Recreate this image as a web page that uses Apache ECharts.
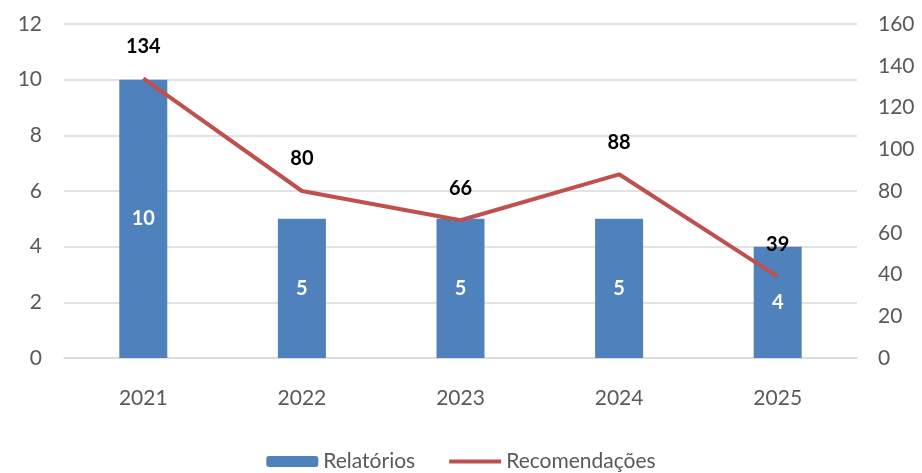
<!DOCTYPE html>
<html>
<head>
<meta charset="utf-8">
<script src="https://cdn.jsdelivr.net/npm/echarts@6/dist/echarts.min.js"></script>
<style>
  html, body { margin: 0; padding: 0; background: #fff; }
  #chart { width: 922px; height: 473px; }
</style>
</head>
<body>
<div id="chart"></div>
<script>
const years = ['2021', '2022', '2023', '2024', '2025']
const relatorios = [10, 5, 5, 5, 4]
const recomendacoes = [134, 80, 66, 88, 39]

const font = 'Lato, "Open Sans", sans-serif'
const gray = '#595959'
// thin line icon for the legend (box kept at full item height)
const lineIcon = 'path://M0,0L1,0M0,3.5H52V7.5H0ZM0,11L1,11'

const chart = echarts.init(document.getElementById('chart'))
chart.setOption({
  animation: false,
  textStyle: { fontFamily: font },
  grid: { left: 64, right: 65, top: 24, bottom: 115 },
  legend: {
    top: 451,
    itemWidth: 52,
    itemHeight: 11,
    itemGap: 34,
    padding: 0,
    textStyle: { color: gray, fontSize: 21, fontFamily: font },
    data: ['Relatórios', { name: 'Recomendações', icon: lineIcon }]
  },
  xAxis: {
    type: 'category',
    data: years,
    axisTick: { show: false },
    axisLine: { lineStyle: { color: '#d9d9d9', width: 1.5 } },
    axisLabel: { color: gray, fontSize: 21, margin: 30 }
  },
  yAxis: [
    {
      type: 'value',
      min: 0, max: 12, interval: 2,
      axisLine: { show: false },
      axisTick: { show: false },
      splitLine: { lineStyle: { color: '#d9d9d9', width: 1.5 } },
      axisLabel: { color: gray, fontSize: 21, margin: 22 }
    },
    {
      type: 'value',
      min: 0, max: 160, interval: 20,
      axisLine: { show: false },
      axisTick: { show: false },
      splitLine: { show: false },
      axisLabel: { color: gray, fontSize: 21, margin: 21 }
    }
  ],
  series: [
    {
      name: 'Relatórios',
      type: 'bar',
      data: relatorios,
      barWidth: 48,
      itemStyle: { color: '#4f81bd' },
      label: {
        show: true,
        position: 'inside',
        color: '#fff',
        fontWeight: 'bold',
        fontSize: 20
      }
    },
    {
      name: 'Recomendações',
      type: 'line',
      yAxisIndex: 1,
      data: recomendacoes,
      symbol: 'circle',
      symbolSize: 0,
      lineStyle: { color: '#c0504d', width: 4 },
      itemStyle: { color: '#c0504d' },
      label: {
        show: true,
        position: 'top',
        distance: 22,
        color: '#000',
        fontWeight: 'bold',
        fontSize: 20
      }
    }
  ]
})
</script>
</body>
</html>
